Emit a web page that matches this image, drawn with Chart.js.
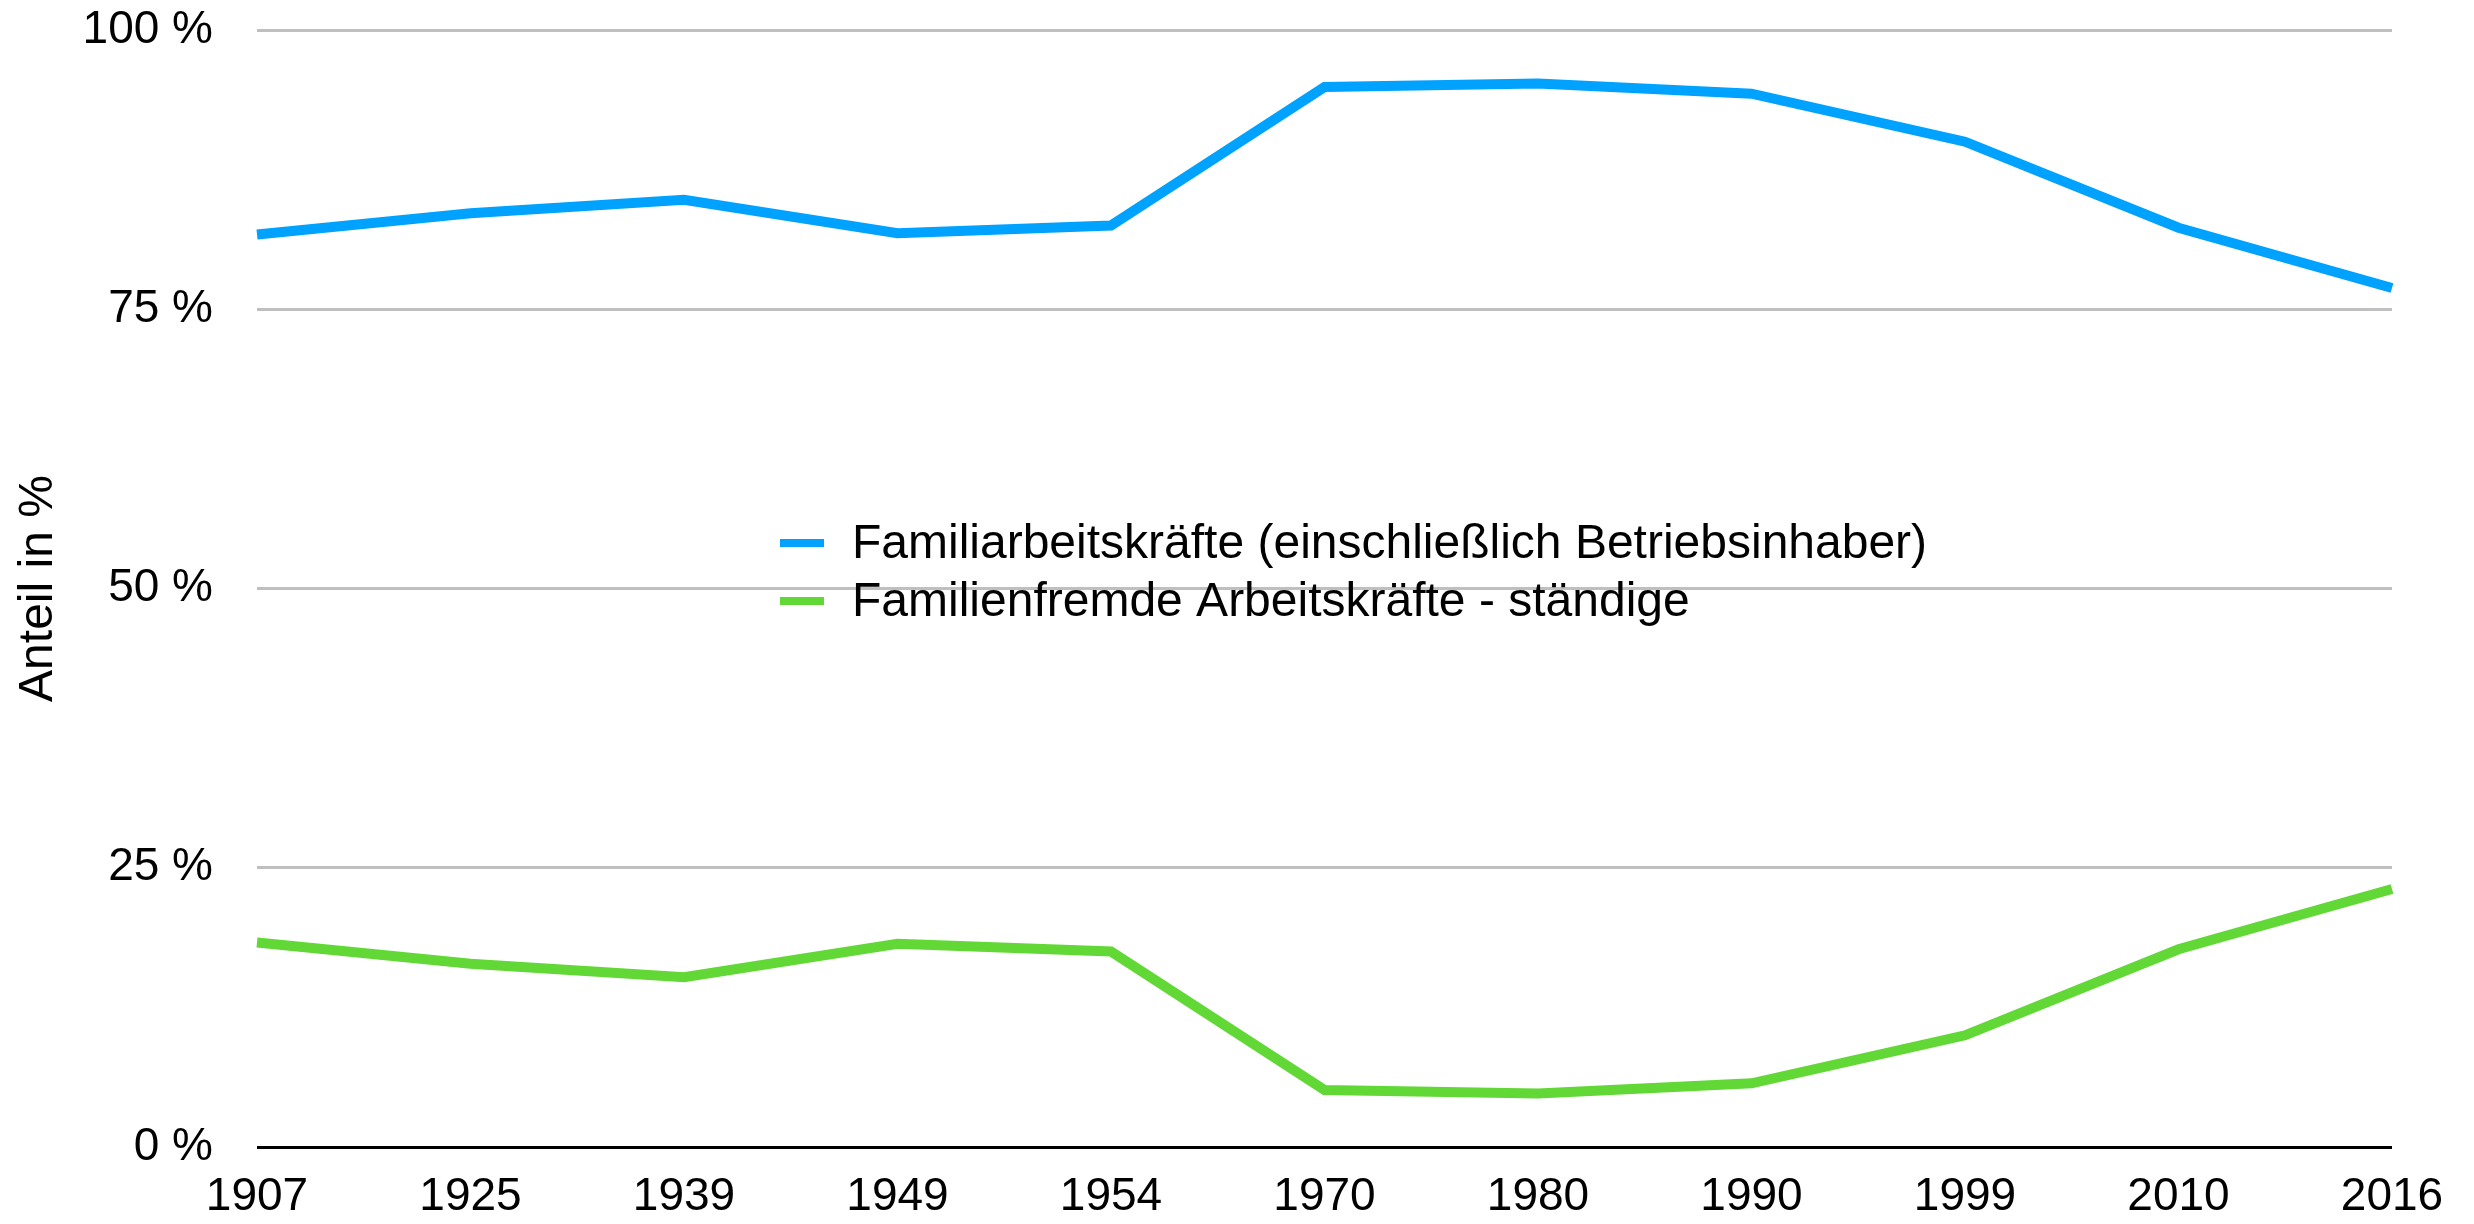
<!DOCTYPE html>
<html>
<head>
<meta charset="utf-8">
<script src="https://cdn.jsdelivr.net/npm/chart.js@4"></script>
<style>
  html, body { margin: 0; padding: 0; background: #ffffff; }
  #wrap { width: 2474px; height: 1224px; position: relative; }
</style>
</head>
<body>
<div id="wrap"><canvas id="c" width="2474" height="1224"></canvas></div>
<script>
const years = ['1907','1925','1939','1949','1954','1970','1980','1990','1999','2010','2016'];
const familienAK = [81.7, 83.6, 84.8, 81.8, 82.5, 94.9, 95.2, 94.3, 90.0, 82.3, 76.9];
const fremdeAK   = [18.3, 16.4, 15.2, 18.2, 17.5, 5.1, 4.8, 5.7, 10.0, 17.7, 23.1];
const seriesLabels = ['Familiarbeitskräfte (einschließlich Betriebsinhaber)', 'Familienfremde Arbeitskräfte - ständige'];
const yTicks = [0, 25, 50, 75, 100];
const yTitle = 'Anteil in %';

const FONT = '"Liberation Sans", Arial, Helvetica, sans-serif';

const innerLegend = {
  id: 'innerLegend',
  afterDatasetsDraw(chart) {
    const ctx = chart.ctx;
    const a = chart.chartArea;
    const x0 = a.left + 523;
    const rows = [a.top + 513, a.top + 571];
    ctx.save();
    ctx.font = '48px ' + FONT;
    ctx.textBaseline = 'middle';
    ctx.textAlign = 'left';
    chart.data.datasets.forEach((ds, i) => {
      const y = rows[i];
      ctx.fillStyle = ds.borderColor;
      ctx.fillRect(x0, y - 4, 44, 8);
      ctx.fillStyle = '#000000';
      ctx.fillText(ds.label, x0 + 72, y + 2);
    });
    ctx.restore();
  }
};

new Chart(document.getElementById('c'), {
  type: 'line',
  data: {
    labels: years,
    datasets: [
      { label: seriesLabels[0], data: familienAK, borderColor: '#00A2FF', backgroundColor: '#00A2FF',
        borderWidth: 10, pointRadius: 0, tension: 0, fill: false },
      { label: seriesLabels[1], data: fremdeAK, borderColor: '#61D836', backgroundColor: '#61D836',
        borderWidth: 10, pointRadius: 0, tension: 0, fill: false }
    ]
  },
  options: {
    responsive: false,
    animation: false,
    devicePixelRatio: 1,
    layout: { padding: { top: 30, right: 82, left: 0, bottom: 0 } },
    plugins: {
      legend: { display: false },
      tooltip: { enabled: false }
    },
    scales: {
      x: {
        offset: false,
        grid: { display: false, drawTicks: false },
        border: { display: false },
        ticks: { color: '#000000', font: { family: FONT, size: 46 }, padding: 23, maxRotation: 0, autoSkip: false },
        afterFit(s) { s.height = 77; s.paddingLeft = 0; s.paddingRight = 0; }
      },
      y: {
        min: 0, max: 100,
        afterBuildTicks(s) { s.ticks = yTicks.map(v => ({ value: v })); },
        grid: {
          drawTicks: false,
          color: (c) => c.tick && c.tick.value === 0 ? '#000000' : '#BFBFBF',
          lineWidth: 3
        },
        border: { display: false },
        ticks: { color: '#000000', font: { family: FONT, size: 46 }, padding: 44,
                 callback: (v) => v + ' %' },
        title: { display: true, text: yTitle, color: '#000000', font: { family: FONT, size: 48 }, padding: { top: 10, bottom: 0 } },
        afterFit(s) { s.width = 257; s.paddingTop = 0; s.paddingBottom = 0; }
      }
    }
  },
  plugins: [innerLegend]
});
</script>
</body>
</html>
